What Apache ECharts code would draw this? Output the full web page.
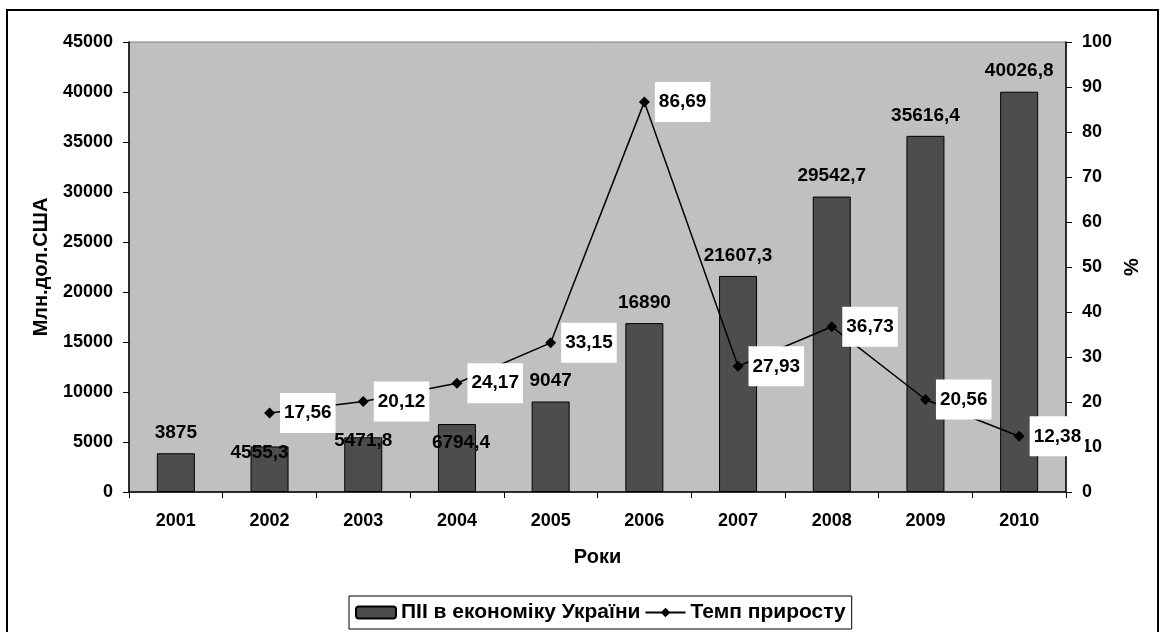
<!DOCTYPE html>
<html>
<head>
<meta charset="utf-8">
<script src="https://cdn.jsdelivr.net/npm/echarts@6/dist/echarts.min.js"></script>
<style>
  html, body { margin: 0; padding: 0; background: #fff; }
  #chart { width: 1164px; height: 632px; }
</style>
</head>
<body>
<div id="chart"></div>
<script>
var years = ['2001', '2002', '2003', '2004', '2005', '2006', '2007', '2008', '2009', '2010']
var fdiValues = [3875, 4555.3, 5471.8, 6794.4, 9047, 16890, 21607.3, 29542.7, 35616.4, 40026.8]
var growthValues = [null, 17.56, 20.12, 24.17, 33.15, 86.69, 27.93, 36.73, 20.56, 12.38]
var leftTicks = [0, 45000, 5000]
var rightTicks = [0, 100, 10]

// a few bar labels were moved down in the original so they don't hit the line labels
var labelShift = { 1: [-10, 27], 2: [0, 24], 3: [4, 39] }

var fontFam = '"Liberation Sans", Arial, sans-serif'

function comma (v) {
  return String(v).replace('.', ',')
}

var barData = fdiValues.map(function (v, i) {
  var item = { value: v }
  if (labelShift[i]) item.label = { offset: labelShift[i] }
  return item
})

var chart = echarts.init(document.getElementById('chart'))
var option = {
  animation: false,
  textStyle: { fontFamily: fontFam },
  graphic: [{
    type: 'rect',
    shape: { x: 7, y: 10, width: 1151, height: 640 },
    style: { fill: 'none', stroke: '#000', lineWidth: 2 },
    silent: true
  }],
  grid: {
    left: 129, right: 98, top: 42, bottom: 140,
    show: true,
    backgroundColor: '#c0c0c0',
    borderColor: '#808080',
    borderWidth: 1
  },
  legend: {
    left: 349, top: 596,
    borderColor: '#000', borderWidth: 1,
    padding: [6, 6, 6, 6],
    itemGap: 4,
    itemWidth: 40, itemHeight: 12,
    textStyle: { fontFamily: fontFam, fontWeight: 'bold', fontSize: 21, color: '#000' },
    data: ['ПІІ в економіку України', 'Темп приросту']
  },
  xAxis: {
    type: 'category',
    data: years,
    name: 'Роки',
    nameLocation: 'middle',
    nameGap: 55,
    nameTextStyle: { fontWeight: 'bold', fontSize: 20, color: '#000' },
    axisLine: { lineStyle: { color: '#000', width: 1.5 } },
    axisTick: { show: true, length: 6, lineStyle: { color: '#000' } },
    axisLabel: { fontWeight: 'bold', fontSize: 18, color: '#000', margin: 20 }
  },
  yAxis: [{
    type: 'value',
    min: leftTicks[0], max: leftTicks[1], interval: leftTicks[2],
    name: 'Млн.дол.США',
    nameLocation: 'middle',
    nameRotate: 90,
    nameGap: 78,
    nameTextStyle: { fontWeight: 'bold', fontSize: 20, color: '#000' },
    axisLine: { show: true, lineStyle: { color: '#000', width: 1.5 } },
    axisTick: { show: true, length: 6, lineStyle: { color: '#000' } },
    axisLabel: {
      fontWeight: 'bold', fontSize: 18, color: '#000', margin: 16,
      formatter: function (v) { return String(v) }
    },
    splitLine: { show: false }
  }, {
    type: 'value',
    position: 'right',
    min: rightTicks[0], max: rightTicks[1], interval: rightTicks[2],
    name: '%',
    nameLocation: 'middle',
    nameRotate: 90,
    nameGap: 55,
    nameTextStyle: { fontWeight: 'bold', fontSize: 20, color: '#000' },
    axisLine: { show: true, lineStyle: { color: '#000', width: 1.5 } },
    axisTick: { show: true, length: 6, lineStyle: { color: '#000' } },
    axisLabel: { fontWeight: 'bold', fontSize: 18, color: '#000', margin: 16 },
    splitLine: { show: false }
  }],
  series: [{
    name: 'ПІІ в економіку України',
    type: 'bar',
    barWidth: 38,
    data: barData,
    itemStyle: { color: '#4d4d4d', borderColor: '#000', borderWidth: 1 },
    label: {
      show: true,
      position: 'top',
      distance: 11,
      fontWeight: 'bold',
      fontSize: 19,
      color: '#000',
      formatter: function (p) { return comma(p.value) }
    }
  }, {
    name: 'Темп приросту',
    type: 'line',
    yAxisIndex: 1,
    data: growthValues,
    symbol: 'diamond',
    symbolSize: 11,
    itemStyle: { color: '#000' },
    lineStyle: { color: '#000', width: 1.5 },
    label: {
      show: true,
      position: 'right',
      distance: 5,
      backgroundColor: '#fff',
      padding: [11, 4, 10, 4],
      fontWeight: 'bold',
      fontSize: 19,
      color: '#000',
      formatter: function (p) { return comma(p.value) }
    },
    z: 5
  }]
}
chart.setOption(option)
</script>
</body>
</html>
